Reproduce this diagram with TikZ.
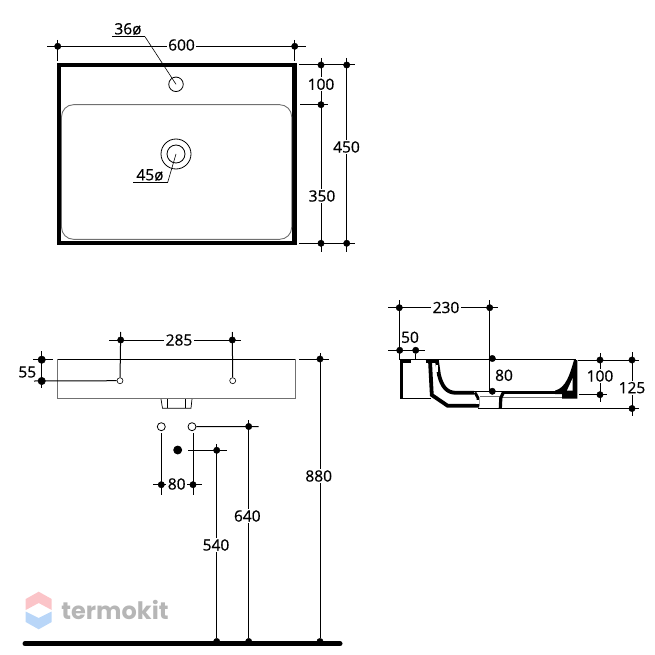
\documentclass[tikz,border=0pt]{standalone}
\usepackage{fontspec}
\setmainfont{Open Sans}[RawFeature={embolden=0.7}]
\newfontfamily\logofont{Poppins}
\definecolor{rimgrey}{HTML}{707070}
\definecolor{logogrey}{HTML}{B6B6B6}
\definecolor{logopink}{HTML}{FBC4C8}
\definecolor{logoblue}{HTML}{B9D6F8}
\tikzstyle{vertex}=[circle, draw, inner sep=0pt, minimum size=6.4pt, fill]
\tikzstyle{bigvertex}=[vertex, minimum size=7.5pt]
\tikzstyle{hole}=[circle, draw, inner sep=0pt, line width=0.8pt]
\tikzstyle{dimtext}=[fill=white, inner sep=1.5pt, font=\fontsize{15.5}{15.5}\selectfont]
\tikzstyle{dimline}=[line width=1pt]
\newcommand{\vertex}{\node[vertex]}
\newcommand{\bigvertex}{\node[bigvertex]}
\newcommand{\dimtext}{\node[dimtext]}
\begin{document}
\begin{tikzpicture}[x=1pt,y=-1pt]
            \useasboundingbox (0,0) rectangle (655,655);
            % top view
            \draw[line width=4.2pt] (58.7,65.3) rectangle (294.5,243);
            \draw[rimgrey, line width=0.9pt, rounded corners=12pt] (61.5,104.7) rectangle (291.7,239.3);
            \node[hole, minimum size=14.5pt] (tap) at (176,84.3){};
            \node[hole, minimum size=30pt] (drainout) at (176,154){};
            \node[hole, minimum size=18pt] (drainin) at (176,154){};
            \vertex (w1) at (57.7,46.3){};
            \vertex (w2) at (294.7,46.3){};
            \vertex (a1) at (321,65){};
            \vertex (a2) at (321,104.7){};
            \vertex (a3) at (321,243.3){};
            \vertex (b1) at (346.7,65){};
            \vertex (b3) at (346.7,243.3){};
            \coordinate (wl) at (47.3,46.3);
            \coordinate (wr) at (306,46.3);
            \coordinate (w1t) at (57.7,40);
            \coordinate (w1b) at (57.7,60.7);
            \coordinate (w2t) at (294.7,40);
            \coordinate (w2b) at (294.7,60.7);
            \coordinate (e1) at (299,65);
            \coordinate (e1r) at (355,65);
            \coordinate (e2) at (300,104.7);
            \coordinate (e2r) at (327.7,104.7);
            \coordinate (e3) at (299,243.3);
            \coordinate (e3r) at (355,243.3);
            \coordinate (a0) at (321,58);
            \coordinate (a4) at (321,251.7);
            \coordinate (b0) at (346.7,58);
            \coordinate (b4) at (346.7,251.7);
            \coordinate (u1) at (112,36.7);
            \coordinate (u2) at (145,36.7);
            \coordinate (v1) at (133,182.3);
            \coordinate (v2) at (167.7,182.3);
            \path[dimline]
                (wl) edge (wr)
                (w1t) edge (w1b)
                (w2t) edge (w2b)
                (e1) edge (e1r)
                (e2) edge (e2r)
                (e3) edge (e3r)
                (a0) edge (a4)
                (b0) edge (b4)
            ;
            \path[line width=0.6pt]
                (u1) edge (u2)
                (u2) edge (tap.center)
                (v1) edge (v2)
                (v2) edge (drainin.center)
            ;
            \dimtext (t600) at (181.5,45){600};
            \dimtext (t100) at (321,84.3){100};
            \dimtext (t350) at (322,196){350};
            \dimtext (t450) at (346.5,147){450};
            \dimtext[fill=none] (t36) at (128,29){36ø};
            \dimtext[fill=none] (t45) at (150,175){45ø};
            % front view
            \draw[rimgrey, line width=1pt] (57.7,359.3) -- (57.7,398.7) -- (295,398.7) -- (295,359.3);
            \draw[line width=0.9pt] (57.7,359.3) -- (295,359.3);
            \draw[line width=0.7pt] (161,399) -- (162.5,408.3) -- (191,408.3) -- (192,399);
            \draw[line width=0.7pt] (167.3,399) -- (167.3,408) (185.7,399) -- (185.7,408);
            \node[hole, minimum size=6pt, line width=0.6pt] (p1) at (120,380.7){};
            \node[hole, minimum size=6pt, line width=0.6pt] (p2) at (232.7,380.7){};
            \node[hole, minimum size=8pt] (c1) at (161.3,426.7){};
            \node[hole, minimum size=8pt] (c2) at (192,426.7){};
            \node[hole, minimum size=8pt, fill] (c3) at (177.7,450){};
            \vertex (h1) at (120.7,340){};
            \vertex (h2) at (232.3,340){};
            \bigvertex (f1) at (41.7,359.7){};
            \bigvertex (f2) at (41.7,381){};
            \vertex (g1) at (320,359){};
            \vertex (g2) at (320,641.5){};
            \vertex (i1) at (248.7,426.5){};
            \vertex (i2) at (248.7,641.5){};
            \vertex (j1) at (216.7,450.3){};
            \vertex (j2) at (216.7,641.5){};
            \vertex (k1) at (161.3,484.7){};
            \vertex (k2) at (193,484.7){};
            \coordinate (hl) at (109,340);
            \coordinate (hr) at (240.7,340);
            \coordinate (h1t) at (120.7,332);
            \coordinate (h2t) at (232.3,332);
            \coordinate (fl) at (33,359.7);
            \coordinate (fr) at (52.7,359.7);
            \coordinate (fb) at (34,381);
            \coordinate (f0) at (41.7,351);
            \coordinate (f3) at (41.7,388.3);
            \coordinate (gl) at (299,359);
            \coordinate (gr) at (329,359);
            \coordinate (g0) at (320,353);
            \coordinate (ir) at (258.7,426.5);
            \coordinate (i0) at (248.7,420);
            \coordinate (jl) at (188.3,450.3);
            \coordinate (jr) at (226.7,450.3);
            \coordinate (j0) at (216.7,444);
            \coordinate (kl) at (153.3,484.7);
            \coordinate (kr) at (201.7,484.7);
            \coordinate (k1t) at (161.3,433);
            \coordinate (k1b) at (161.3,495);
            \coordinate (k2t) at (193,433);
            \coordinate (k2b) at (193,495);
            \coordinate (gndl) at (25,643.7);
            \coordinate (gndr) at (340,643.7);
            \path[dimline]
                (hl) edge (hr)
                (h1t) edge (p1)
                (h2t) edge (p2)
                (fl) edge (fr)
                (fb) edge (p1)
                (f0) edge (f3)
                (gl) edge (gr)
                (g0) edge (g2)
                (c2) edge (ir)
                (i0) edge (i2)
                (jl) edge (jr)
                (j0) edge (j2)
                (kl) edge (kr)
                (k1t) edge (k1b)
                (k2t) edge (k2b)
            ;
            \path[line width=5pt, line cap=round]
                (gndl) edge (gndr)
            ;
            \dimtext (t285) at (179,340){285};
            \dimtext[fill=none] (t55) at (27.3,372){55};
            \dimtext (t880) at (318.7,476){880};
            \dimtext (t640) at (247.3,516){640};
            \dimtext (t540) at (216,545){540};
            \dimtext (t80) at (176.7,484){80};
            % side section
            \draw[line width=1pt] (400,359.6) -- (576,359.6);
            \draw[line width=1pt] (400,398) -- (431,398);
            \draw[line width=3.4pt] (401.7,398) -- (401.7,361.2) -- (411,361.2);
            \draw[line width=3.4pt] (425.7,361.2) -- (439,361.2);
            \draw[line width=3.8pt] (430,361) -- (431.8,395) -- (447.7,405.8) -- (479,405.8);
            \draw[line width=3.8pt] (437,361) -- (439,375) .. controls (442,387) and (447,392.8) .. (456,392.8) -- (474,392.8);
            \fill[white] (435.7,365) rectangle (437.7,372);
            \draw[line width=0.9pt] (473.3,391.7) -- (505,391.7);
            \draw[line width=2.8pt] (475,392.5) -- (478,398) -- (478,406);
            \fill[white] (476,400) rectangle (479.4,404);
            \draw[line width=0.9pt] (478,408.4) -- (499,408.4);
            \draw[rimgrey, line width=0.9pt] (480,396.7) -- (500,396.7);
            \draw[line width=3.2pt] (503.5,392) -- (500.8,398) -- (500.3,408.5);
            \draw[line width=3.4pt] (503,392.4) -- (555,392.4);
            \draw[rimgrey, line width=1pt] (503,397.5) -- (564,397.5);
            \fill (555,390.6) .. controls (566,388) and (570,374) .. (574,360) -- (577.3,360) -- (577.3,398.7) -- (562,398.7) -- (562,394) -- (555,394) -- cycle;
            \fill[white] (567,390.5) -- (572.7,378) -- (572.7,390.5) -- cycle;
            \vertex (s1) at (399.3,307.7){};
            \vertex (s2) at (489.7,307.7){};
            \vertex (r1) at (399.7,350.3){};
            \vertex (r2) at (415.7,350.3){};
            \vertex (m1) at (492.3,358.5){};
            \vertex (m2) at (492.3,391.3){};
            \vertex (n1) at (600,360){};
            \vertex (n2) at (600,394.7){};
            \vertex (o1) at (632,360){};
            \vertex (o2) at (632,408.5){};
            \coordinate (sl) at (388,307.7);
            \coordinate (sr) at (497.7,307.7);
            \coordinate (s1t) at (399.3,300);
            \coordinate (s1b) at (399.3,360);
            \coordinate (s2t) at (489.7,300);
            \coordinate (s2b) at (489.7,391.5);
            \coordinate (rl) at (388,350.3);
            \coordinate (rr) at (425,350.3);
            \coordinate (r2b) at (415.7,359.5);
            \coordinate (nl) at (578,360);
            \coordinate (nr) at (639,360);
            \coordinate (ql) at (579,394.7);
            \coordinate (qr) at (606.7,394.7);
            \coordinate (ol) at (499,408.5);
            \coordinate (or) at (639,408.5);
            \coordinate (n0) at (600,353);
            \coordinate (n3) at (600,402);
            \coordinate (o0) at (632,352);
            \coordinate (o3) at (632,416);
            \path[dimline]
                (sl) edge (sr)
                (s1t) edge (s1b)
                (s2t) edge (s2b)
                (rl) edge (rr)
                (r2) edge (r2b)
                (nl) edge (nr)
                (ql) edge (qr)
                (ol) edge (or)
                (n0) edge (n3)
                (o0) edge (o3)
            ;
            \dimtext (t230) at (446,307.5){230};
            \dimtext[fill=none] (t50) at (410,337.3){50};
            \dimtext[fill=none] (t80b) at (504,375.3){80};
            \dimtext (t100b) at (600,376){100};
            \dimtext (t125) at (632,387.7){125};
            % logo
            \fill[logopink] (38.7,591.7) -- (51.7,599) -- (51.7,610) -- (38.7,603) -- (25.7,610) -- (25.7,599) -- cycle;
            \fill[logoblue] (25.7,611.5) -- (38.7,618) -- (51.7,611.5) -- (51.7,622) -- (38.7,629.3) -- (25.7,622) -- cycle;
            \node[text=logogrey, inner sep=0pt, font=\logofont\bfseries\fontsize{24}{24}\selectfont] (logo) at (115,610){termokit};
        \end{tikzpicture}
\end{document}
